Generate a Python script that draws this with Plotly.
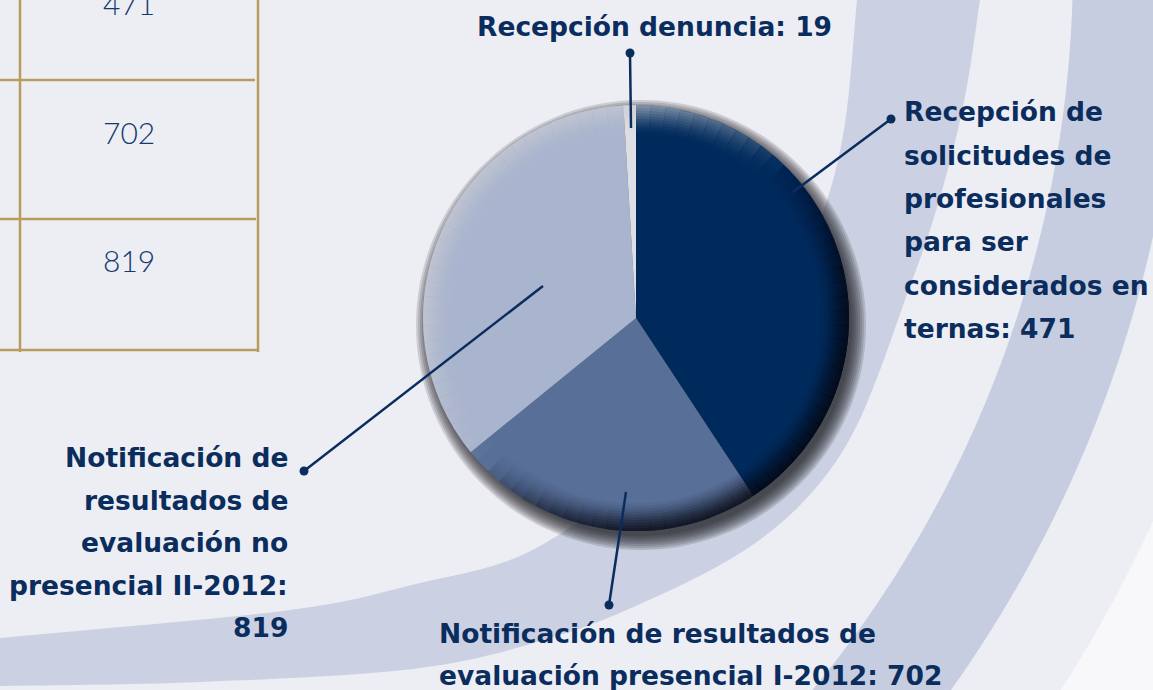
import numpy as np
import plotly.graph_objects as go

W, H = 1153, 690

# ---------------- data ----------------
slice_names = ["Recepción de solicitudes", "Notificación presencial I-2012",
               "Notificación no presencial II-2012", "Recepción denuncia"]
slice_values = [819, 471, 702, 19]
slice_colors = ["#002a5c", "#586f98", "#a9b5cf", "#dedfe4"]

label_solicitudes = ["Recepción de", "solicitudes de", "profesionales", "para ser",
                     "considerados en", "ternas: 471"]
label_presencial = ["Notificación de resultados de", "evaluación presencial I-2012: 702"]
label_no_presencial = ["Notificación de", "resultados de", "evaluación no",
                       "presencial II-2012:", "819"]
label_denuncia = ["Recepción denuncia: 19"]

table_values = [471, 702, 819]

# ---------------- styling / layout constants ----------------
NAVY = "#0b2d5e"
GOLD = "#b89c5e"
BG = "#edeef4"
BAND_A = "#cbd1e2"
BAND_B = "#c7cde0"
WHITE_REGION = "#f8f8fb"
LABEL_FONT = "DejaVu Sans"
FS = 26.5

PIE_CX, PIE_CY, PIE_R = 636, 318, 213


def px(x):
    return x / W


def py(y):
    return 1 - y / H


def dom(cx, cy, r):
    return dict(x=[(cx - r) / W, (cx + r) / W], y=[1 - (cy + r) / H, 1 - (cy - r) / H])


def poly_path(pts):
    return "M " + " L ".join(f"{px(x):.5f},{py(y):.5f}" for x, y in pts) + " Z"


def catmull(pts, n=20):
    pts = np.asarray(pts, dtype=float)
    P = np.vstack([pts[0], pts, pts[-1]])
    out = []
    for i in range(1, len(P) - 2):
        p0, p1, p2, p3 = P[i - 1], P[i], P[i + 1], P[i + 2]
        for t in np.linspace(0, 1, n, endpoint=False):
            t2, t3 = t * t, t * t * t
            out.append(0.5 * ((2 * p1) + (-p0 + p2) * t + (2 * p0 - 5 * p1 + 4 * p2 - p3) * t2
                              + (-p0 + 3 * p1 - 3 * p2 + p3) * t3))
    out.append(P[-2])
    return [tuple(p) for p in out]


def arc_pts(cx, cy, R, y_from, y_to, n=120):
    ys = np.linspace(y_from, y_to, n)
    xs = cx + np.sqrt(np.maximum(R ** 2 - (ys - cy) ** 2, 0))
    return list(zip(xs, ys))


shapes = []

# ---------------- background bands ----------------
C0 = (-69, -36)
white_edge = arc_pts(C0[0], C0[1], 1343, 480, 700)
shapes.append(dict(type="path", xref="paper", yref="paper", layer="below",
                   path=poly_path(white_edge + [(1200, 700), (1200, 480)]),
                   fillcolor=WHITE_REGION, line=dict(width=0)))
innerB = arc_pts(C0[0], C0[1], 1142, -10, 700)
outerB = arc_pts(C0[0], C0[1], 1252, -10, 700)
shapes.append(dict(type="path", xref="paper", yref="paper", layer="below",
                   path=poly_path(innerB + outerB[::-1]),
                   fillcolor=BAND_B, line=dict(width=0)))
outerA = [(982, -10), (980, 0), (968, 80), (953, 150), (930, 230), (905, 300), (880, 370),
          (857, 425), (830, 470), (790, 515), (737, 555), (660, 595), (560, 635),
          (420, 668), (200, 682), (0, 686), (-20, 686)]
innerA = [(-20, 640), (0, 638), (290, 610), (420, 583), (510, 560), (577, 523), (650, 470),
          (730, 390), (790, 300), (822, 215), (838, 160), (848, 100), (857, 0), (859, -10)]
shapes.append(dict(type="path", xref="paper", yref="paper", layer="below",
                   path=poly_path(catmull(outerA) + catmull(innerA)),
                   fillcolor=BAND_A, line=dict(width=0)))

# ---------------- table ----------------
tbl_lines = [((20, -5), (20, 352)), ((258, -5), (258, 352)),
             ((0, 80), (255, 80)), ((0, 219), (256, 219)), ((0, 350), (259, 350))]
for (x0, y0), (x1, y1) in tbl_lines:
    shapes.append(dict(type="line", xref="paper", yref="paper", layer="below",
                       x0=px(x0), y0=py(y0), x1=px(x1), y1=py(y1),
                       line=dict(color=GOLD, width=2.5)))

annotations = []
tbl_baselines = [15, 144, 272]
for v, b in zip(table_values, tbl_baselines):
    annotations.append(dict(x=px(128.5), y=py(b - 0.387 * 30), xref="paper", yref="paper",
                            text=str(v), showarrow=False, xanchor="center", yanchor="middle",
                            font=dict(family="Lato", size=30, color="#123a6e", weight=300)))

# ---------------- pie: shadow, body, rim ----------------
traces = []
for k in range(8):
    r = PIE_R + 12 - 2 * k
    traces.append(go.Pie(values=[1], labels=[f"s{k}"], domain=dom(PIE_CX + 5, PIE_CY + 7, r),
                         marker=dict(colors=["rgba(30,30,36,0.16)"], line=dict(width=0)),
                         textinfo="none", hoverinfo="skip", sort=False, showlegend=False))

traces.append(go.Pie(values=slice_values, labels=slice_names, domain=dom(PIE_CX, PIE_CY, PIE_R),
                     marker=dict(colors=slice_colors, line=dict(width=0)),
                     textinfo="none", sort=False, direction="clockwise", rotation=0,
                     showlegend=False, hoverinfo="label+value"))

NSEG = 90
seg_theta = (np.arange(NSEG) + 0.5) * 360 / NSEG
fdir = np.cos(np.radians(seg_theta - 315))
for k in range(10):
    hole = 0.87 + 0.013 * k
    a = 0.04 + 0.026 * k
    cols = []
    for f in fdir:
        if f < 0:
            s = min(1.0, -f * 1.4)
            cols.append(f"rgba(8,10,20,{a * s:.3f})")
        else:
            s = min(1.0, f * 1.4) * 0.6
            cols.append(f"rgba(205,208,216,{a * s:.3f})")
    traces.append(go.Pie(values=[1] * NSEG, labels=[f"r{k}_{j}" for j in range(NSEG)],
                         domain=dom(PIE_CX, PIE_CY, PIE_R), hole=hole,
                         marker=dict(colors=cols, line=dict(width=0)),
                         textinfo="none", hoverinfo="skip", sort=False,
                         direction="clockwise", rotation=0, showlegend=False))

# ---------------- leader lines and labels ----------------
leaders = [((630, 53), (631, 128)), ((891, 119), (793, 192)),
           ((609, 605), (626, 492)), ((304, 471), (543, 286))]
for (x0, y0), (x1, y1) in leaders:
    shapes.append(dict(type="line", xref="paper", yref="paper",
                       x0=px(x0), y0=py(y0), x1=px(x1), y1=py(y1),
                       line=dict(color=NAVY, width=2.5)))
    rr = 4.5
    shapes.append(dict(type="circle", xref="paper", yref="paper",
                       x0=px(x0 - rr), x1=px(x0 + rr), y0=py(y0 + rr), y1=py(y0 - rr),
                       fillcolor=NAVY, line=dict(width=0)))

OFF = 0.346 * FS


def add_label(lines, x, first_baseline, step, anchor):
    for i, t in enumerate(lines):
        annotations.append(dict(x=px(x), y=py(first_baseline + i * step - OFF),
                                xref="paper", yref="paper", text=t, showarrow=False,
                                xanchor=anchor, yanchor="middle",
                                font=dict(family=LABEL_FONT, size=FS, color=NAVY, weight="bold")))


add_label(label_denuncia, 654, 36, 0, "center")
add_label(label_solicitudes, 902, 121, 43.3, "left")
add_label(label_presencial, 437, 643, 42, "left")
add_label(label_no_presencial, 290, 467, 42.5, "right")

fig = go.Figure(data=traces)
fig.update_layout(width=W, height=H, autosize=False,
                  margin=dict(l=0, r=0, t=0, b=0),
                  paper_bgcolor=BG, plot_bgcolor=BG,
                  showlegend=False, shapes=shapes, annotations=annotations)
fig.write_html("out.html", config={"displayModeBar": False},
               post_script="document.body.style.margin='0';document.body.style.padding='0';")
